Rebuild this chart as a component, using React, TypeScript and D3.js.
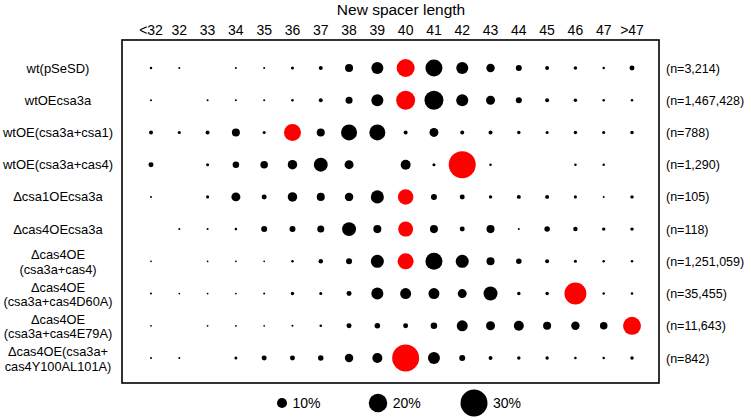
import React from 'react';
import * as d3 from 'd3';

// spacer length categories (columns)
const lengths = ['<32', '32', '33', '34', '35', '36', '37', '38', '39', '40', '41', '42', '43', '44', '45', '46', '47', '>47'];

// strain labels, one entry per row (lines of the label)
const strains = [
  ['wt(pSeSD)'],
  ['wtOEcsa3a'],
  ['wtOE(csa3a+csa1)'],
  ['wtOE(csa3a+cas4)'],
  ['\u0394csa1OEcsa3a'],
  ['\u0394cas4OEcsa3a'],
  ['\u0394cas4OE', '(csa3a+cas4)'],
  ['\u0394cas4OE', '(csa3a+cas4D60A)'],
  ['\u0394cas4OE', '(csa3a+cas4E79A)'],
  ['\u0394cas4OE(csa3a+', 'cas4Y100AL101A)'],
];

const counts = ['(n=3,214)', '(n=1,467,428)', '(n=788)', '(n=1,290)', '(n=105)', '(n=118)', '(n=1,251,059)', '(n=35,455)', '(n=11,643)', '(n=842)'];

// length shown in red for each row
const highlight = ['40', '40', '36', '42', '40', '40', '40', '46', '>47', '40'];

// percentage of spacers per length, null = not observed
const wtPSeSD = [1.1, 0.5, null, 0.5, 0.5, 1.7, 2.8, 7.6, 12.3, 19.4, 18.2, 12.3, 8.1, 5.2, 2.8, 2.2, 1.1, 4.0];
const wtOEcsa3a = [0.5, null, 0.5, 0.5, 0.5, 1.1, 2.8, 6.4, 12.3, 20.5, 20.5, 12.3, 8.7, 5.2, 2.8, 2.2, 1.1, 1.1];
const wtOEcsa1 = [2.8, 1.7, 2.8, 7.6, 1.7, 18.2, 7.6, 17, 17, 2.8, 8.7, 2.8, 2.8, 2.2, 1.7, 2.2, 1.7, 2.2];
const wtOEcas4 = [4.0, null, 1.7, 5.8, 7.0, 9.3, 14.6, 8.7, null, 9.9, 1.7, 30, 1.1, null, null, 1.1, 1.1, null];
const dCsa1 = [0.5, null, 1.7, 8.7, 4.0, 9.3, 7.6, 8.1, 13.5, 16.4, 5.2, 4.0, 2.2, 2.8, 2.8, 1.7, 0.5, 2.2];
const dCas4 = [null, 0.5, 0.5, 1.1, 5.2, 5.2, 6.4, 14.6, 7.6, 15.8, 7.6, 4.0, 7.6, 0.5, 4.6, 3.4, 2.2, 2.2];
const dCas4Cas4 = [0.2, null, 0.2, 0.2, 0.2, 1.1, 3.4, 5.2, 13.5, 17, 18.2, 13.5, 7.6, 4.6, 2.8, 1.7, 1.1, 1.1];
const dCas4D60A = [0.5, 0.2, 0.2, 0.2, 0.5, 2.2, 1.7, 4.0, 12.3, 11.1, 11.1, 8.7, 14.6, 2.2, 2.2, 24, 1.1, 1.1];
const dCas4E79A = [0.2, null, 0.2, 0.2, 0.2, 0.5, 1.1, 4.0, 4.6, 4.0, 5.8, 11.1, 8.7, 9.9, 7.6, 8.1, 7.0, 19.4];
const dCas4Y100A = [0.5, 0.5, null, 1.7, 4.0, 4.0, 4.6, 8.1, 9.9, 30, 12.3, 5.2, 2.8, 2.2, 2.2, 1.1, 1.1, 2.2];

const rows = [wtPSeSD, wtOEcsa3a, wtOEcsa1, wtOEcas4, dCsa1, dCas4, dCas4Cas4, dCas4D60A, dCas4E79A, dCas4Y100A];

const legendValues = [10, 20, 30];

const font = 'Arial, "Liberation Sans", Helvetica, sans-serif';

export default function App() {
  const width = 750;
  const height = 417;
  const box = { left: 122, top: 40, right: 659, bottom: 383 };

  const x = d3.scalePoint<string>().domain(lengths).range([151, 632]);
  const y = d3.scalePoint<number>().domain(d3.range(rows.length)).range([68, 358]);
  const r = d3.scaleLinear().domain([0, 30]).range([0.8, 13.5]);
  const lx = d3.scalePoint<number>().domain(legendValues).range([282, 474]);

  return (
    <svg width={width} height={height} style={{ position: 'absolute', left: 0, top: 0, background: '#fff' }} fontFamily={font}>
      <text x={401} y={15} textAnchor="middle" fontSize={15.5}>New spacer length</text>
      {lengths.map(l => (
        <text key={l} x={x(l)} y={35} textAnchor="middle" fontSize={14}>{l}</text>
      ))}
      <rect x={box.left} y={box.top} width={box.right - box.left} height={box.bottom - box.top}
        fill="none" stroke="#000" strokeWidth={1.6} />
      {rows.map((vals, i) => (
        <g key={i}>
          {vals.map((v, j) => v == null ? null : (
            <circle key={j} cx={x(lengths[j])} cy={y(i)} r={r(v)}
              fill={highlight[i] === lengths[j] ? '#ff0000' : '#000'} />
          ))}
          {strains[i].length === 1 ? (
            <text x={58} y={(y(i) as number) + 4.5} textAnchor="middle" fontSize={13}>{strains[i][0]}</text>
          ) : (
            <text textAnchor="middle" fontSize={12.8}>
              <tspan x={58} y={(y(i) as number) - 2}>{strains[i][0]}</tspan>
              <tspan x={58} y={(y(i) as number) + 12.6}>{strains[i][1]}</tspan>
            </text>
          )}
          <text x={666} y={(y(i) as number) + 4.5} fontSize={12.5}>{counts[i]}</text>
        </g>
      ))}
      {legendValues.map(v => (
        <g key={v}>
          <circle cx={lx(v)} cy={403} r={r(v)} fill="#000" />
          <text x={(lx(v) as number) + r(v) + 5.5} y={408} fontSize={14}>{v}%</text>
        </g>
      ))}
    </svg>
  );
}
